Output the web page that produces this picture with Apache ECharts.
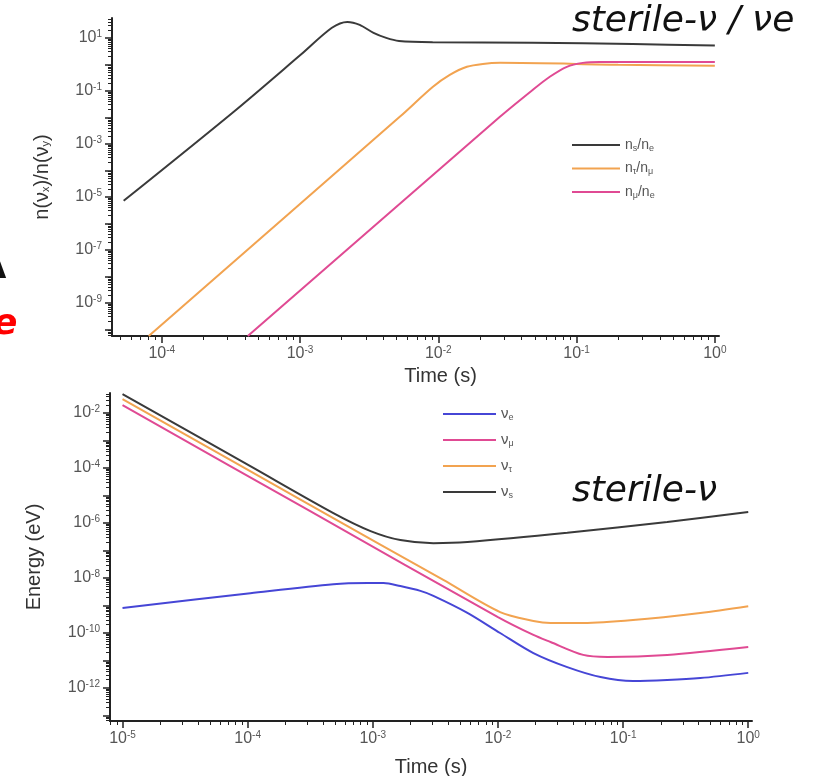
<!DOCTYPE html>
<html>
<head>
<meta charset="utf-8">
<script src="https://cdn.jsdelivr.net/npm/echarts@6/dist/echarts.min.js"></script>
<style>
  html, body { margin: 0; padding: 0; background: #fff; }
  #chart { width: 818px; height: 776px; }
</style>
</head>
<body>
<div id="chart"></div>
<script>
// ====== 上图：数密度比  [time (s), ratio] ======
const ratioSterile = [
  [5.3e-5, 7.1e-6], [3.3e-4, 1.6e-2], [1.0e-3, 2.2], [1.7e-3, 24], [2.2e-3, 40],
  [2.7e-3, 31], [3.4e-3, 15.5], [4.2e-3, 10], [5.2e-3, 7.7], [9.1e-3, 6.9],
  [4.8e-2, 6.6], [0.255, 5.9], [1.0, 5.1],
];
const ratioTauMu = [
  [8.05e-5, 5.6e-11], [5.26e-3, 1.05e-2], [9.1e-3, 0.14], [1.21e-2, 0.40],
  [1.61e-2, 0.81], [2.1e-2, 1.04], [2.8e-2, 1.14], [0.2, 0.97], [1.0, 0.88],
];
const ratioMuE = [
  [4.19e-4, 5.6e-11], [2.79e-2, 1.05e-2], [4.83e-2, 0.11], [6.4e-2, 0.34],
  [8.5e-2, 0.81], [0.111, 1.14], [0.147, 1.24], [1.0, 1.24],
];

// ====== 下图：能量  [time (s), energy (eV)] ======
const energyE = [
  [1e-5, 8.1e-10], [1.05e-4, 2.8e-9], [4.84e-4, 6.0e-9], [9.1e-4, 6.6e-9],
  [1.22e-3, 6.6e-9], [1.66e-3, 5.1e-9], [2.4e-3, 3.4e-9], [3.05e-3, 2.24e-9],
  [5.7e-3, 5.4e-10], [1.04e-2, 1.0e-10], [1.92e-2, 1.86e-11], [3.58e-2, 5.75e-12],
  [6.6e-2, 2.5e-12], [0.12, 1.8e-12], [0.225, 1.95e-12], [0.414, 2.3e-12], [1.0, 3.55e-12],
];
const energyMu = [
  [1e-5, 1.95e-2], [3.16e-4, 2.7e-6], [1e-2, 3.8e-10], [1.92e-2, 8.5e-11],
  [2.63e-2, 4.7e-11], [4.8e-2, 1.6e-11], [7.5e-2, 1.35e-11], [0.225, 1.6e-11], [1.0, 3.1e-11],
];
const energyTau = [
  [1e-5, 3.24e-2], [3.16e-4, 4.5e-6], [3.66e-3, 8.5e-9], [1.04e-2, 5.75e-10],
  [1.92e-2, 2.75e-10], [2.63e-2, 2.3e-10], [4.8e-2, 2.3e-10], [0.12, 2.95e-10],
  [0.414, 5.4e-10], [1.0, 9.5e-10],
];
const energySterile = [
  [1e-5, 4.9e-2], [1.05e-4, 1.17e-4], [4.84e-4, 2.3e-6], [9.6e-4, 5.1e-7],
  [1.66e-3, 2.4e-7], [3.05e-3, 1.86e-7], [5.7e-3, 2.04e-7], [3.58e-2, 4.4e-7],
  [0.225, 1.1e-6], [1.0, 2.5e-6],
];

// 刻度标签（10 的幂次）
const topTimeExp = [-4, -3, -2, -1, 0];
const topRatioExp = [-9, -7, -5, -3, -1, 1];
const bottomTimeExp = [-5, -4, -3, -2, -1, 0];
const bottomEnergyExp = [-12, -10, -8, -6, -4, -2];

const toLog = (pts) => pts.map(([t, v]) => [Math.log10(t), Math.log10(v)]);

function decades(lo, hi) {
  const out = [];
  for (let d = Math.ceil(lo); d <= Math.floor(hi); d++) out.push(d);
  return out;
}
function minorTicks(lo, hi) {
  const out = [];
  for (let d = Math.floor(lo); d < Math.ceil(hi); d++) {
    for (let k = 2; k <= 9; k++) {
      const v = d + Math.log10(k);
      if (v >= lo && v <= hi) out.push(v);
    }
  }
  return out;
}

const FONT = '"Liberation Sans", Arial, sans-serif';
const AXIS_COLOR = "#222";
const labelRich = {
  b: { fontSize: 16, color: "#555", fontFamily: FONT },
  sup: { fontSize: 10, color: "#555", fontFamily: FONT, padding: [0, 0, 8, 0] },
};
const nameRich = {
  sub: { fontSize: 11, color: "#333", fontFamily: FONT, padding: [8, 0, 0, 0] },
};

function mainAxis(gridIndex, position, min, max, labelExp, name, nameGap, labelMargin, namePadding) {
  return {
    type: "value", gridIndex, position, min, max,
    name, nameLocation: "middle", nameGap,
    nameTextStyle: { fontSize: 20, color: "#333", fontFamily: FONT, rich: nameRich, padding: namePadding || 0 },
    axisLine: { show: true, onZero: false, lineStyle: { color: AXIS_COLOR, width: 2 } },
    axisTick: { show: true, length: 7, customValues: decades(min, max), lineStyle: { color: AXIS_COLOR, width: 1.5 } },
    axisLabel: {
      customValues: labelExp, margin: labelMargin,
      formatter: (v) => "{b|10}{sup|" + Math.round(v) + "}",
      rich: labelRich,
    },
    splitLine: { show: false },
  };
}
function minorAxis(gridIndex, position, min, max) {
  return {
    type: "value", gridIndex, position, min, max,
    axisLine: { show: false, onZero: false },
    axisTick: { show: true, length: 4, customValues: minorTicks(min, max), lineStyle: { color: AXIS_COLOR, width: 1 } },
    axisLabel: { show: false },
    splitLine: { show: false },
  };
}

const legendRich = {
  sub: { fontSize: 9, color: "#555", fontFamily: FONT, padding: [7, 0, 0, 0] },
};
const legendLabels = {
  "ns/ne": "n{sub|s}/n{sub|e}",
  "nτ/nμ": "n{sub|τ}/n{sub|μ}",
  "nμ/ne": "n{sub|μ}/n{sub|e}",
  "νe": "ν{sub|e}",
  "νμ": "ν{sub|μ}",
  "ντ": "ν{sub|τ}",
  "νs": "ν{sub|s}",
};

function line(name, data, color, gi) {
  return {
    name, type: "line", xAxisIndex: gi, yAxisIndex: gi,
    data: toLog(data), smooth: 0.3, symbol: "none", clip: true,
    lineStyle: { width: 2, color }, itemStyle: { color },
  };
}

const BLACK = "#3a3a3a", ORANGE = "#f2a350", PINK = "#e04a93", BLUE = "#4646d6";

const option = {
  animation: false,
  backgroundColor: "#fff",
  grid: [
    { left: 112, top: 18, width: 607, height: 318, outerBoundsMode: "none" },
    { left: 110, top: 393, width: 642, height: 328, outerBoundsMode: "none" },
  ],
  xAxis: [
    mainAxis(0, "bottom", -4.36, 0.03, topTimeExp, "Time (s)", 30, 9, [0, 0, 0, 50]),
    minorAxis(0, "bottom", -4.36, 0.03),
    mainAxis(1, "bottom", -5.1, 0.03, bottomTimeExp, "Time (s)", 36, 9),
    minorAxis(1, "bottom", -5.1, 0.03),
  ],
  yAxis: [
    mainAxis(0, "left", -10.25, 1.75, topRatioExp, "n(ν{sub|x})/n(ν{sub|y})", 60, 10),
    minorAxis(0, "left", -10.25, 1.75),
    mainAxis(1, "left", -13.2, -1.27, bottomEnergyExp, "Energy (eV)", 66, 10),
    minorAxis(1, "left", -13.2, -1.27),
  ],
  legend: [
    {
      data: ["ns/ne", "nτ/nμ", "nμ/ne"],
      orient: "vertical", left: 567, top: 132,
      icon: "rect", itemWidth: 48, itemHeight: 2, itemGap: 7.5,
      formatter: (n) => legendLabels[n],
      textStyle: { fontSize: 14, color: "#555", fontFamily: FONT, lineHeight: 16, rich: legendRich },
    },
    {
      data: ["νe", "νμ", "ντ", "νs"],
      orient: "vertical", left: 438, top: 401,
      icon: "rect", itemWidth: 53, itemHeight: 2, itemGap: 10,
      formatter: (n) => legendLabels[n],
      textStyle: { fontSize: 15, color: "#555", fontFamily: FONT, lineHeight: 16, rich: legendRich },
    },
  ],
  graphic: [
    { type: "text", left: 572, top: 4, style: { text: "sterile-ν / νe", fill: "#111", font: 'italic 36px "DejaVu Sans"' } },
    { type: "text", left: 572, top: 474, style: { text: "sterile-ν", fill: "#111", font: 'italic 36px "DejaVu Sans"' } },
    { type: "text", left: -7, top: 307, style: { text: "e", fill: "#f00", font: 'italic bold 36px "DejaVu Sans"' } },
    { type: "text", left: -20, top: 252, style: { text: "Λ", fill: "#111", font: 'bold 34px "DejaVu Sans"' } },
  ],
  series: [
    line("ns/ne", ratioSterile, BLACK, 0),
    line("nτ/nμ", ratioTauMu, ORANGE, 0),
    line("nμ/ne", ratioMuE, PINK, 0),
    line("νe", energyE, BLUE, 2),
    line("νμ", energyMu, PINK, 2),
    line("ντ", energyTau, ORANGE, 2),
    line("νs", energySterile, BLACK, 2),
  ],
};

const chart = echarts.init(document.getElementById("chart"));
chart.setOption(option);
</script>
</body>
</html>
